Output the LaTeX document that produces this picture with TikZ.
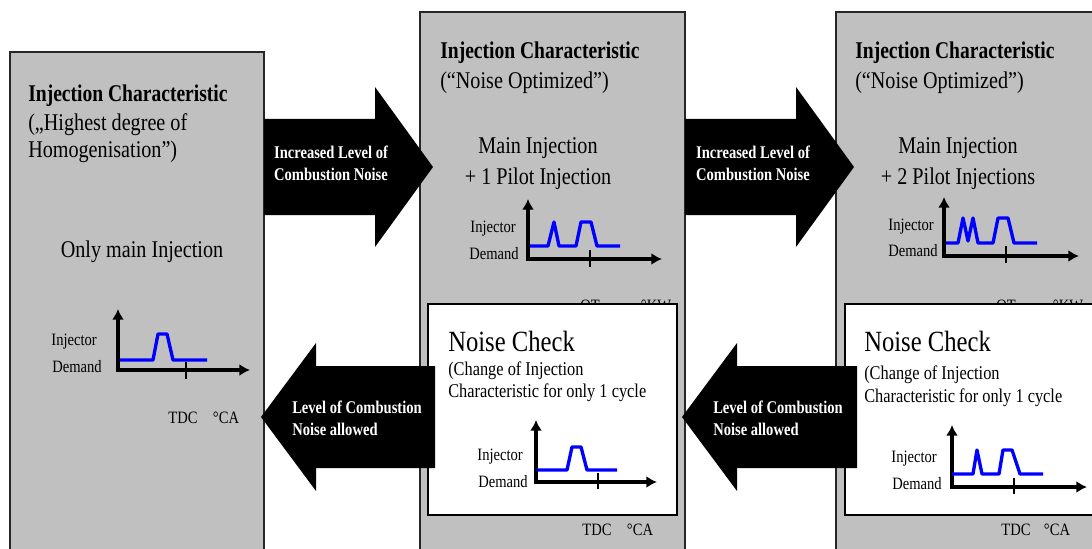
\documentclass[tikz,border=0pt]{standalone}
\usepackage{fontspec}
\setmainfont{Liberation Serif}[FakeStretch=0.84, BoldFeatures={FakeStretch=0.815}]
\usetikzlibrary{arrows.meta}
\definecolor{boxgray}{RGB}{192,192,192}
\definecolor{sigblue}{RGB}{0,0,255}
\newcommand{\fmain}{\fontsize{18}{21}\selectfont}
\newcommand{\fbig}{\fontsize{22}{26}\selectfont}
\newcommand{\fsub}{\fontsize{14.6}{16.5}\selectfont}
\newcommand{\fsmall}{\fontsize{13}{15}\selectfont}
\newcommand{\farrow}{\fontsize{13.4}{16.5}\selectfont\bfseries}
\tikzset{
  gbox/.style={draw=black!85, line width=1.5pt, fill=boxgray},
  wbox/.style={draw=black, line width=1.5pt, fill=white},
  bigarrow/.style={fill=black},
  axis/.style={line width=2.5pt, {Latex[length=8pt,width=9pt]}-{Latex[length=8pt,width=9pt]}},
  tick/.style={line width=0.9pt},
  sig/.style={draw=sigblue, line width=2.5pt, line join=round},
  txt/.style={inner sep=0pt, anchor=base west, font=\fmain},
  lbl/.style={inner sep=0pt, anchor=base east, font=\fsmall},
  ax/.style={inner sep=0pt, anchor=base, font=\fsmall},
  atxt/.style={inner sep=0pt, text=white, font=\farrow},
}
\begin{document}
\begin{tikzpicture}[x=0.75pt, y=-0.75pt]
\clip (0,0) rectangle (1092,549);
\fill[white] (0,0) rectangle (1092,549);

% ---------- gray boxes ----------
\draw[gbox] (10,52) rectangle (264,570);
\draw[gbox] (420,12) rectangle (685,570);
\draw[gbox] (836,12) rectangle (1110,570);

% ---------- box 1 ----------
\node[txt, font=\fmain\bfseries] (t1) at (28,102) {Injection Characteristic};
\node[txt] (t1b) at (28,131) {(„Highest degree of};
\node[txt] (t1c) at (28,158) {Homogenisation”)};
\node[inner sep=0pt, anchor=base, font=\fmain] (t1d) at (142,257) {Only main Injection};
\node[lbl] (c1a) at (97,345) {Injector};
\node[lbl] (c1b) at (102,372) {Demand};
\draw[axis] (118,309) -- (118,370) -- (250,370);
\draw[tick] (186,362) -- (186,379);
\draw[sig] (120,360) -- (153,360) -- (158,334) -- (167,334) -- (173,360) -- (207,360);
\node[ax] (c1c) at (183,423) {TDC};
\node[ax] (c1d) at (226,423) {°CA};

% ---------- box 2 ----------
\node[txt, font=\fmain\bfseries] (t2) at (440,59) {Injection Characteristic};
\node[txt] (t2b) at (440,89) {(“Noise Optimized”)};
\node[inner sep=0pt, anchor=base, font=\fmain] (t2c) at (538,154) {Main Injection};
\node[inner sep=0pt, anchor=base, font=\fmain] (t2d) at (538,185) {+ 1 Pilot Injection};
\node[lbl] (c2a) at (516,233) {Injector};
\node[lbl] (c2b) at (519,259) {Demand};
\draw[axis] (528,199) -- (528,259) -- (662,259);
\draw[tick] (590,250) -- (590,267);
\draw[sig] (530,246) -- (548,246) -- (554,222) -- (559,246) -- (576,246) -- (581,222) -- (591,222) -- (597,246) -- (620,246);
\node[ax] (h2a) at (590,311) {OT};
\node[ax] (h2b) at (656,311) {°KW};

\draw[wbox] (428,304) rectangle (677,515);
\node[txt, font=\fbig] (n2) at (448,351) {Noise Check};
\node[txt, font=\fsub] (n2b) at (448,375) {(Change of Injection};
\node[txt, font=\fsub] (n2c) at (448,397) {Characteristic for only 1 cycle};
\node[lbl] (c3a) at (523,460) {Injector};
\node[lbl] (c3b) at (528,487) {Demand};
\draw[axis] (536,420) -- (536,482) -- (657,482);
\draw[tick] (598,473) -- (598,489);
\draw[sig] (537,470) -- (567,470) -- (572,447) -- (581,447) -- (587,470) -- (617,470);
\node[ax] (c3c) at (597,535) {TDC};
\node[ax] (c3d) at (640,535) {°CA};

% ---------- box 3 ----------
\node[txt, font=\fmain\bfseries] (t3) at (855,59) {Injection Characteristic};
\node[txt] (t3b) at (855,89) {(“Noise Optimized”)};
\node[inner sep=0pt, anchor=base, font=\fmain] (t3c) at (958,154) {Main Injection};
\node[inner sep=0pt, anchor=base, font=\fmain] (t3d) at (958,185) {+ 2 Pilot Injections};
\node[lbl] (c4a) at (934,230) {Injector};
\node[lbl] (c4b) at (938,256) {Demand};
\draw[axis] (944,197) -- (944,256) -- (1079,256);
\draw[tick] (1006,246) -- (1006,263);
\draw[sig] (946,243) -- (958,243) -- (963,218) -- (968,241) -- (973,218) -- (978,243) -- (993,243) -- (998,218) -- (1008,218) -- (1014,243) -- (1037,243);
\node[ax] (h3a) at (1006,311) {OT};
\node[ax] (h3b) at (1068,311) {°KW};

\draw[wbox] (845,304) rectangle (1110,515);
\node[txt, font=\fbig] (n3) at (864,351) {Noise Check};
\node[txt, font=\fsub] (n3b) at (864,379) {(Change of Injection};
\node[txt, font=\fsub] (n3c) at (864,402) {Characteristic for only 1 cycle};
\node[lbl] (c5a) at (937,462) {Injector};
\node[lbl] (c5b) at (942,489) {Demand};
\draw[axis] (952,425) -- (952,487) -- (1087,487);
\draw[tick] (1014,478) -- (1014,494);
\draw[sig] (952,474) -- (973,474) -- (977,450) -- (982,474) -- (999,474) -- (1003,450) -- (1012,450) -- (1020,474) -- (1043,474);
\node[ax] (c5c) at (1016,535) {TDC};
\node[ax] (c5d) at (1057,535) {°CA};

% ---------- big arrows ----------
\fill[bigarrow] (264,119) -- (375,119) -- (375,87) -- (433,167) -- (375,247) -- (375,215) -- (264,215) -- cycle;
\node[atxt, align=center] (a1) at (331,163) {Increased Level of\\Combustion Noise};
\fill[bigarrow] (685,119) -- (796,119) -- (796,87) -- (854,167) -- (796,247) -- (796,215) -- (685,215) -- cycle;
\node[atxt, align=center] (a2) at (753,163) {Increased Level of\\Combustion Noise};

\fill[bigarrow] (435,366) -- (316,366) -- (316,343) -- (261,417) -- (316,491) -- (316,468) -- (435,468) -- cycle;
\node[atxt, align=left, anchor=west] (a3) at (292,418) {Level of Combustion\\Noise allowed};
\fill[bigarrow] (857,366) -- (737,366) -- (737,343) -- (682,417) -- (737,491) -- (737,468) -- (857,468) -- cycle;
\node[atxt, align=left, anchor=west] (a4) at (713,418) {Level of Combustion\\Noise allowed};
\end{tikzpicture}
\end{document}
